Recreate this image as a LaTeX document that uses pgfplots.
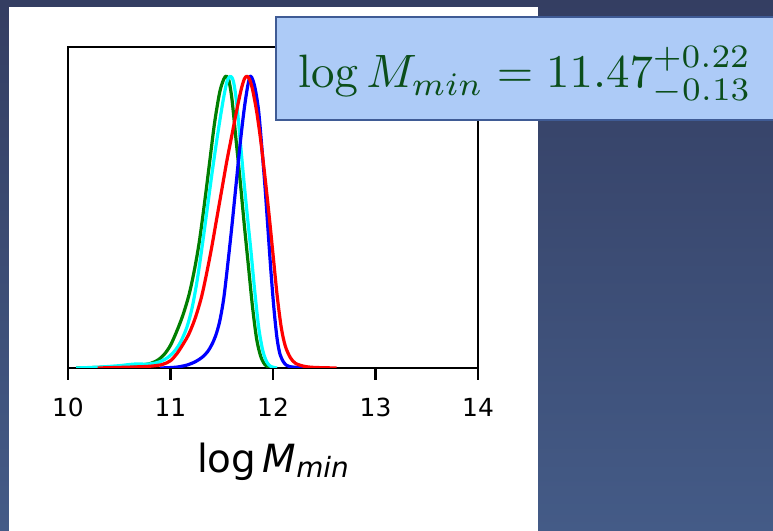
\documentclass[border=0pt]{standalone}
\usepackage[no-math]{fontspec}
\setmainfont{DejaVu Sans}
\usepackage{pgfplots}
\pgfplotsset{compat=1.18}

\definecolor{bgtop}{HTML}{343E62}
\definecolor{bgbot}{HTML}{445B87}
\definecolor{boxfill}{HTML}{ADCBF7}
\definecolor{boxedge}{HTML}{3F5B95}
\definecolor{fmlgreen}{HTML}{0B4E1B}
\definecolor{mplgreen}{HTML}{007F00}
\definecolor{mplcyan}{HTML}{00FFFF}

\begin{document}
\begin{tikzpicture}[x=1bp,y=1bp]
\path[use as bounding box] (0,0) rectangle (773,531);
\clip (0,0) rectangle (773,531);
% slide background and the white figure panel
\shade[top color=bgtop,bottom color=bgbot] (0,0) rectangle (773,531);
\fill[white] (9,0) rectangle (538,524);

\begin{axis}[
  at={(68bp,163bp)}, anchor=south west,
  width=410bp, height=321bp, scale only axis,
  xmin=10, xmax=14, ymin=0, ymax=1.1,
  xtick={10,11,12,13,14}, ytick=\empty,
  xtick pos=bottom, tick align=outside,
  major tick length=12bp,
  axis line style={line width=2.5bp},
  every tick/.style={black, line width=2.5bp},
  /pgf/number format/assume math mode=true,
  xticklabel style={font=\fontsize{25}{25}\selectfont, anchor=base, yshift=-37bp},
  xlabel={\fontsize{39}{39}\selectfont log\,\textit{M}\raisebox{-5.5bp}{\fontsize{28}{28}\selectfont\textit{min}}},
  xlabel style={at={(axis description cs:0.5,-0.324)}, anchor=base},
  every axis plot/.append style={line width=3.2bp, smooth, line join=round},
]
% green chain
\addplot[mplgreen] coordinates {
(10.08,0) (10.3,0.002) (10.5,0.005) (10.7,0.01) (10.8,0.015) (10.88,0.028)
(10.94,0.047) (11.00,0.078) (11.06,0.125) (11.12,0.18) (11.18,0.25) (11.23,0.33)
(11.28,0.43) (11.33,0.56) (11.38,0.70) (11.43,0.84) (11.48,0.945) (11.52,0.99)
(11.545,1.0) (11.57,0.985) (11.60,0.92) (11.64,0.78) (11.68,0.64) (11.72,0.49)
(11.76,0.35) (11.80,0.21) (11.84,0.10) (11.88,0.04) (11.92,0.012) (11.96,0.003) (12.00,0)
};
% cyan chain
\addplot[mplcyan] coordinates {
(10.08,0) (10.3,0.003) (10.5,0.008) (10.6,0.012) (10.68,0.014) (10.76,0.013)
(10.84,0.016) (10.9,0.022) (10.97,0.035) (11.04,0.058) (11.10,0.09) (11.16,0.14)
(11.21,0.205) (11.26,0.30) (11.31,0.42) (11.36,0.55) (11.41,0.68) (11.46,0.80)
(11.51,0.91) (11.55,0.98) (11.585,1.0) (11.615,0.98) (11.645,0.91) (11.68,0.78)
(11.715,0.645) (11.75,0.52) (11.785,0.40) (11.82,0.27) (11.86,0.14) (11.90,0.06)
(11.94,0.02) (11.98,0.005) (12.04,0)
};
% blue chain
\addplot[blue] coordinates {
(10.9,0) (11.06,0.003) (11.17,0.011) (11.25,0.023) (11.31,0.037) (11.36,0.055)
(11.40,0.078) (11.44,0.11) (11.48,0.16) (11.52,0.24) (11.56,0.36) (11.60,0.49)
(11.64,0.63) (11.68,0.77) (11.72,0.89) (11.755,0.97) (11.78,1.0) (11.805,0.985)
(11.83,0.95) (11.86,0.88) (11.89,0.76) (11.92,0.63) (11.95,0.48) (11.98,0.33)
(12.01,0.20) (12.04,0.10) (12.07,0.045) (12.11,0.017) (12.16,0.005) (12.3,0)
};
% red chain
\addplot[red] coordinates {
(10.29,0) (10.6,0.003) (10.8,0.006) (10.92,0.012) (11.00,0.025) (11.06,0.048)
(11.12,0.08) (11.18,0.117) (11.24,0.17) (11.30,0.24) (11.35,0.32) (11.40,0.41)
(11.45,0.51) (11.50,0.61) (11.55,0.71) (11.60,0.80) (11.65,0.89) (11.69,0.955)
(11.72,0.99) (11.745,1.0) (11.77,0.99) (11.80,0.955) (11.84,0.88) (11.88,0.78)
(11.92,0.66) (11.96,0.53) (12.00,0.39) (12.04,0.25) (12.08,0.14) (12.12,0.075)
(12.17,0.035) (12.22,0.016) (12.30,0.006) (12.40,0.002) (12.62,0)
};
\end{axis}

% fitted value callout
\draw[boxedge, line width=2.6bp, fill=boxfill] (276,411) rectangle (800,514);
\node[anchor=base west, inner sep=0pt, text=fmlgreen]
  at (298,443) {\scalebox{4.7}{$\log M_{min} = 11.47^{+0.22}_{-0.13}$}};
\end{tikzpicture}
\end{document}
